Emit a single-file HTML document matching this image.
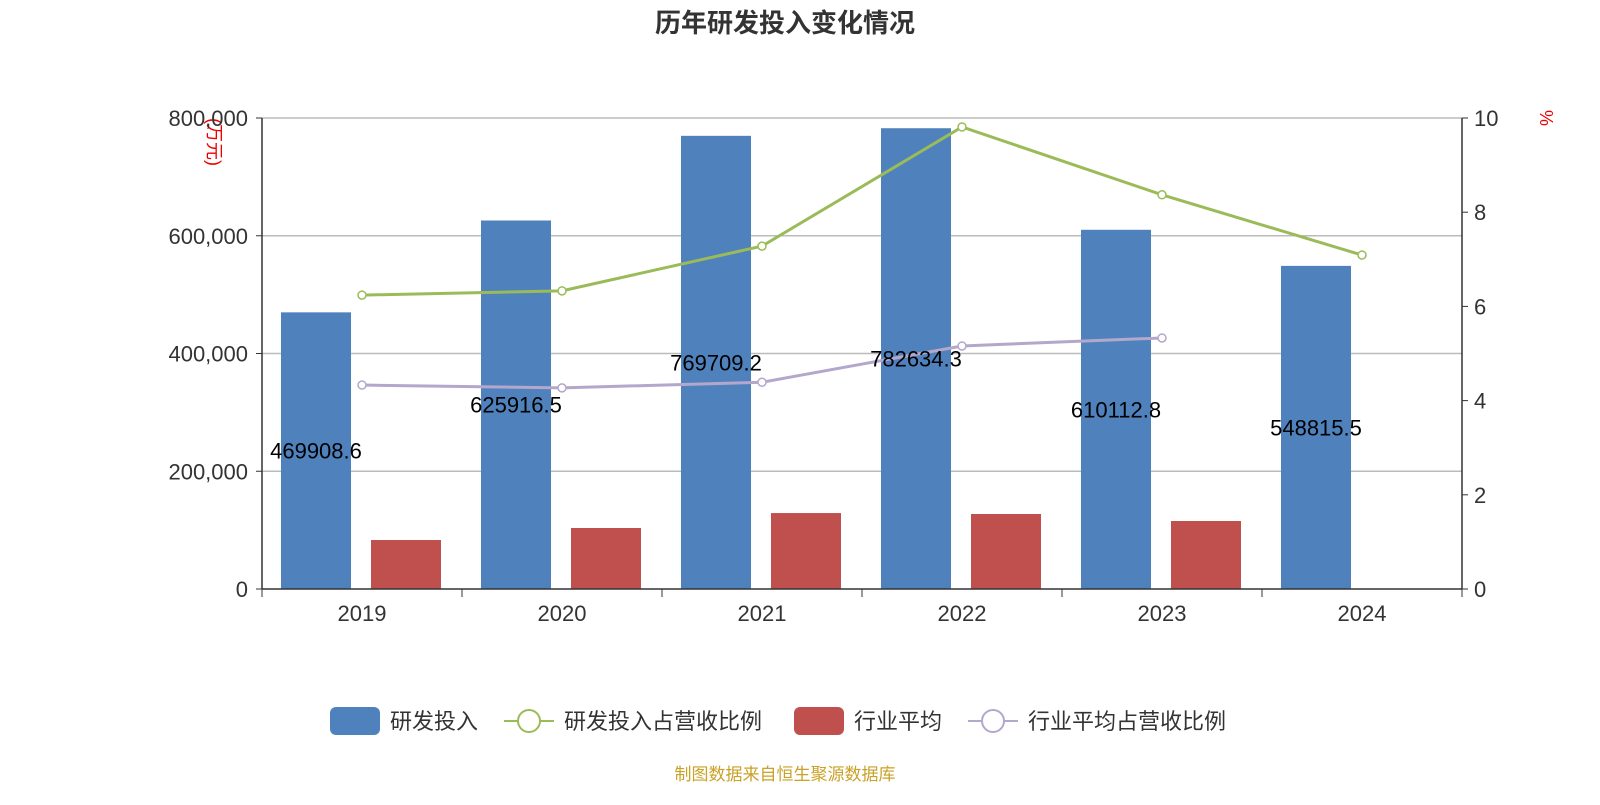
<!DOCTYPE html>
<html><head><meta charset="utf-8"><style>
body{margin:0;background:#fff;font-family:"Liberation Sans","Noto Sans CJK SC",sans-serif;}
</style></head><body>
<svg id="c" width="1600" height="800" xmlns="http://www.w3.org/2000/svg" style="font-family:'Liberation Sans','Noto Sans CJK SC',sans-serif">
<text x="785" y="32" text-anchor="middle" font-size="26" font-weight="bold" fill="#333">历年研发投入变化情况</text>
<text transform="translate(208,142) rotate(90)" text-anchor="middle" font-size="18" fill="#e00">(万元)</text>
<text transform="translate(1540,118) rotate(90)" text-anchor="middle" font-size="18" fill="#e00">%</text>
<g id="grid"></g><g id="bars"></g><g id="lines"></g><g id="axes"></g><g id="labels"></g>
<g font-size="22" fill="#333">
<g><rect x="330" y="707" width="50" height="28" rx="6" fill="#4f81bd"/><text x="390" y="729">研发投入</text></g>
<g><line x1="504" y1="721" x2="554" y2="721" stroke="#9bbb59" stroke-width="2"/><circle cx="529" cy="721" r="11" fill="#fff" stroke="#9bbb59" stroke-width="2"/><text x="564" y="729">研发投入占营收比例</text></g>
<g><rect x="794" y="707" width="50" height="28" rx="6" fill="#c0504d"/><text x="854" y="729">行业平均</text></g>
<g><line x1="968" y1="721" x2="1018" y2="721" stroke="#b3a7cc" stroke-width="2"/><circle cx="993" cy="721" r="11" fill="#fff" stroke="#b3a7cc" stroke-width="2"/><text x="1028" y="729">行业平均占营收比例</text></g>
</g>
<text x="785" y="780" text-anchor="middle" font-size="17" fill="#c9a227">制图数据来自恒生聚源数据库</text>
</svg>
<script>
const categories=["2019","2020","2021","2022","2023","2024"];
const rdValues=[469908.6,625916.5,769709.2,782634.3,610112.8,548815.5];
const industryAvg=[83200,103600,129000,127400,115500,null];
const rdRatio=[6.24,6.33,7.28,9.81,8.37,7.09];
const industryRatio=[4.33,4.27,4.39,5.16,5.33,null];
const leftTicks=[0,200000,400000,600000,800000];
const rightTicks=[0,2,4,6,8,10];
const NS="http://www.w3.org/2000/svg";
const X0=262,X1=1462,Y0=589,Y1=118,band=(X1-X0)/categories.length;
const yL=v=>Y0-(v/800000)*(Y0-Y1), yR=v=>Y0-(v/10)*(Y0-Y1), xC=i=>X0+band*(i+0.5);
function mk(p,t,a){const e=document.createElementNS(NS,t);for(const k in a)e.setAttribute(k,a[k]);document.getElementById(p).appendChild(e);return e;}
const fmt=v=>v.toLocaleString("en-US");
leftTicks.forEach(t=>{const y=yL(t);
 if(t>0){const g=mk("grid","line",{x1:X0,x2:X1,y1:y,y2:y,stroke:"#bbb","stroke-width":1.5});
 
 }
 const l=mk("axes","text",{x:X0-14,y:y+8,"text-anchor":"end","font-size":22,fill:"#333"});l.textContent=fmt(t);
 
 
 mk("axes","line",{x1:X0-6,x2:X0,y1:y,y2:y,stroke:"#333"});});
rightTicks.forEach(t=>{const y=yR(t);
 const l=mk("axes","text",{x:X1+12,y:y+8,"font-size":22,fill:"#333"});l.textContent=t;
 
 
 mk("axes","line",{x1:X1,x2:X1+6,y1:y,y2:y,stroke:"#333"});});
mk("axes","line",{x1:X0,x2:X0,y1:Y1,y2:Y0,stroke:"#333","stroke-width":1.5});
mk("axes","line",{x1:X1,x2:X1,y1:Y1,y2:Y0,stroke:"#333","stroke-width":1.5});
mk("axes","line",{x1:X0,x2:X1,y1:Y0,y2:Y0,stroke:"#333","stroke-width":1.5});
for(let i=0;i<=categories.length;i++){const x=X0+band*i;mk("axes","line",{x1:x,x2:x,y1:Y0,y2:Y0+8,stroke:"#333"});}
categories.forEach((c,i)=>{
 const l=mk("axes","text",{x:xC(i),y:Y0+32,"text-anchor":"middle","font-size":22,fill:"#333"});l.textContent=c;
 
 
 const bx=X0+band*i+19,bw=70;
 const b=mk("bars","rect",{x:bx,y:yL(rdValues[i]),width:bw,height:Y0-yL(rdValues[i]),fill:"#4f81bd"});
 
 
 const t=mk("labels","text",{x:bx+bw/2,y:(yL(rdValues[i])+Y0)/2+8,"text-anchor":"middle","font-size":22,fill:"#000"});t.textContent=rdValues[i];
 
 
 if(industryAvg[i]!=null){const r=mk("bars","rect",{x:bx+90,y:yL(industryAvg[i]),width:bw,height:Y0-yL(industryAvg[i]),fill:"#c0504d"});
 
 }
});
function line(vals,color,name){const pts=[];vals.forEach((v,i)=>{if(v!=null)pts.push([xC(i),yR(v)]);});
 const p=mk("lines","polyline",{points:pts.map(q=>q.join(",")).join(" "),fill:"none",stroke:color,"stroke-width":3});
 
 
 pts.forEach(q=>{const c=mk("lines","circle",{cx:q[0],cy:q[1],r:4,fill:"#fff",stroke:color,"stroke-width":1.5});
 
 });}
line(rdRatio,"#9bbb59","rd-ratio");
line(industryRatio,"#b3a7cc","industry-ratio");
</script>
</body></html>
